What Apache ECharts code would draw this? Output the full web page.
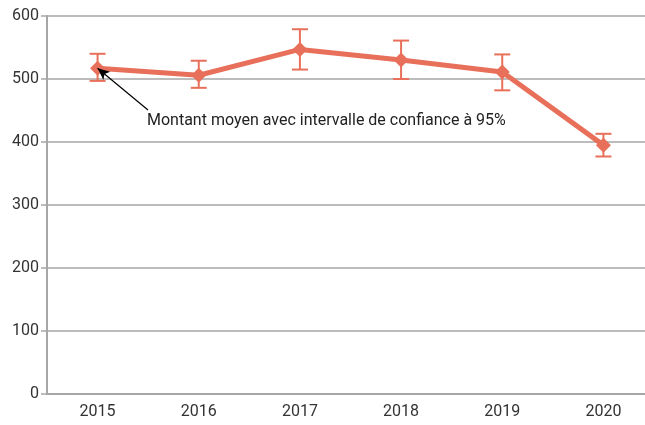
<!DOCTYPE html>
<html><head><meta charset="utf-8">
<script src="https://cdn.jsdelivr.net/npm/echarts@6/dist/echarts.min.js"></script>
<style>html,body{margin:0;padding:0;background:#fff;overflow:hidden;width:645px;height:425px}#c{width:654px;height:425px}</style>
</head><body><div id="c"></div>
<script>
const years = ['2015','2016','2017','2018','2019','2020'];
const means = [517, 506, 547, 530, 511, 395];
const lower = [497, 486, 515, 500, 482, 377];
const upper = [540, 529, 579, 561, 539, 413];
const yTicks = [0, 100, 200, 300, 400, 500, 600];
const noteText = 'Montant moyen avec intervalle de confiance à 95%';

const color = '#E8705A';
const chart = echarts.init(document.getElementById('c'));
chart.setOption({
  animation: false,
  grid: {left: 47, right: 0, top: 16, bottom: 31},
  xAxis: {
    type: 'category', data: years, boundaryGap: true,
    axisLine: {lineStyle: {color: '#a6a6a6', width: 2}},
    axisTick: {show: false},
    axisLabel: {color: '#333', fontSize: 16, fontFamily: 'Roboto', margin: 10}
  },
  yAxis: {
    type: 'value', min: yTicks[0], max: yTicks[yTicks.length-1], interval: 100,
    axisLine: {show: true, lineStyle: {color: '#a6a6a6', width: 2}},
    axisTick: {show: true, length: 6, lineStyle: {color: '#a6a6a6', width: 1.5}},
    axisLabel: {color: '#333', fontSize: 16, fontFamily: 'Roboto', margin: 8},
    splitLine: {lineStyle: {color: '#a6a6a6', width: 1.5}}
  },
  graphic: [{
    type: 'text', left: 147, top: 113,
    style: {text: noteText, fill: '#222', font: '16px Roboto'}
  }],
  series: [{
    type: 'custom',
    z: 3,
    data: years.map((y, i) => [i, lower[i], upper[i]]),
    renderItem: function (params, api) {
      const lo = api.coord([api.value(0), api.value(1)]);
      const hi = api.coord([api.value(0), api.value(2)]);
      const hw = 8;
      const st = {stroke: color, lineWidth: 2};
      return {type: 'group', children: [
        {type: 'line', shape: {x1: hi[0], y1: hi[1], x2: lo[0], y2: lo[1]}, style: st},
        {type: 'line', shape: {x1: hi[0]-hw, y1: hi[1], x2: hi[0]+hw, y2: hi[1]}, style: st},
        {type: 'line', shape: {x1: lo[0]-hw, y1: lo[1], x2: lo[0]+hw, y2: lo[1]}, style: st}
      ]};
    }
  }, {
    type: 'line',
    z: 4,
    data: means,
    symbol: 'diamond', symbolSize: 15,
    lineStyle: {color: color, width: 5},
    itemStyle: {color: color},
    markLine: {
      silent: true,
      symbol: ['none', 'arrow'], symbolSize: [8, 12],
      lineStyle: {color: '#000', width: 1.2, type: 'solid'},
      label: {show: false},
      data: [[{x: 148, y: 110}, {coord: ['2015', means[0]]}]]
    }
  }]
});
</script></body></html>
